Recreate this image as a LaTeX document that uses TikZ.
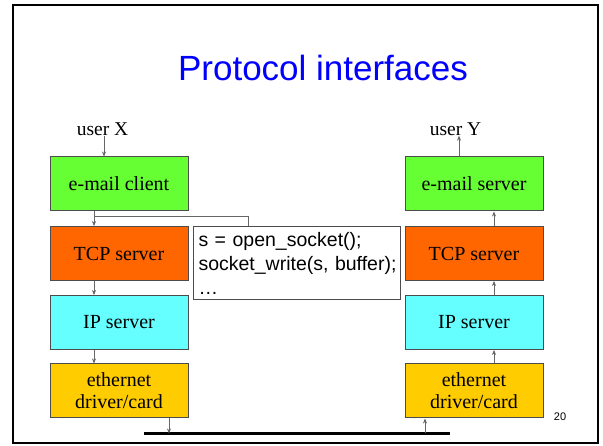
\documentclass[tikz,border=0pt]{standalone}
\usepackage{fontspec}
\setmainfont{Liberation Serif}
\setsansfont{Liberation Sans}
\usetikzlibrary{arrows.meta,calc}
\definecolor{appgreen}{HTML}{66FF33}
\definecolor{tcporange}{HTML}{FF6600}
\definecolor{ipcyan}{HTML}{66FFFF}
\definecolor{ethyellow}{HTML}{FFCC00}
\definecolor{titleblue}{HTML}{0000FF}
\tikzset{
  layer/.style={draw=black!70, line width=1pt, minimum width=138pt, minimum height=54pt,
    inner sep=0pt, align=center, font=\fontsize{20}{22}\selectfont},
  flow/.style={draw=black!60, line width=0.8pt, -{Stealth[length=5pt,width=4pt,fill=black]}},
  plain/.style={draw=black!60, line width=0.8pt},
  label/.style={font=\fontsize{19.5}{22}\selectfont, inner sep=0pt}
}
\begin{document}
\begin{tikzpicture}[x=1pt,y=-1pt]
  \useasboundingbox (0,0) rectangle (603,446);
  % slide frame
  \draw[line width=2pt] (12.5,5.5) rectangle (597.5,443.5);
  % title
  \node[font=\sffamily\fontsize{35}{40}\selectfont, text=titleblue] (title) at (323,68) {Protocol interfaces};

  % sending host
  \node[layer, fill=appgreen]  (ecl)  at (119,184) {e-mail client};
  \node[layer, fill=tcporange] (tcpl) at (119,253.5) {TCP server};
  \node[layer, fill=ipcyan]    (ipl)  at (119,322.5) {IP server};
  \node[layer, fill=ethyellow] (ethl) at (119,391) {ethernet\\driver/card};

  % receiving host
  \node[layer, fill=appgreen]  (ecr)  at (474,184) {e-mail server};
  \node[layer, fill=tcporange] (tcpr) at (474,253.5) {TCP server};
  \node[layer, fill=ipcyan]    (ipr)  at (474,322.5) {IP server};
  \node[layer, fill=ethyellow] (ethr) at (474,391) {ethernet\\driver/card};

  % users
  \node[label] (ux) at (102.5,129) {user X};
  \node[label] (uy) at (455.5,129) {user Y};

  % socket call box
  \node[draw=black!70, line width=1pt, fill=white, anchor=north west,
        minimum width=207pt, minimum height=73pt, text width=201pt,
        inner xsep=3pt, inner ysep=3pt, align=left,
        font=\sffamily\fontsize{19.5}{24}\selectfont] (code) at (193,226)
        {\hspace*{2pt}s = open\_socket();\\\hspace*{2pt}socket\_write(s, buffer);\\\hspace*{2pt}…};

  % ethernet cable
  \coordinate (busL) at (144,433.5);
  \coordinate (busR) at (450,433.5);
  \draw[line width=3.2pt] (busL) -- (busR);

  % page number
  \node[font=\sffamily\fontsize{11}{12}\selectfont] (pg) at (560,417) {20};

  % downward path on the sending side
  \draw[flow] ([xshift=1.5pt]ux.south) -- ([xshift=-15pt]ecl.north);
  \draw[flow] ([xshift=-25pt]ecl.south) -- ([xshift=-25pt]tcpl.north);
  \draw[plain] ($([xshift=-25pt]ecl.south)+(0,5)$) -| ([xshift=55pt]code.north west);
  \draw[flow] ([xshift=-25pt]tcpl.south) -- ([xshift=-25pt]ipl.north);
  \draw[flow] ([xshift=-25pt]ipl.south) -- ([xshift=-25pt]ethl.north);
  \draw[flow] ([xshift=50pt]ethl.south) -- ([xshift=50pt]ethl.south |- busL);

  % upward path on the receiving side
  \draw[flow] ([xshift=-49pt]ethr.south |- busR) -- ([xshift=-49pt]ethr.south);
  \draw[flow] ([xshift=20pt]ethr.north) -- ([xshift=20pt]ipr.south);
  \draw[flow] ([xshift=20pt]ipr.north) -- ([xshift=20pt]tcpr.south);
  \draw[flow] ([xshift=20pt]tcpr.north) -- ([xshift=20pt]ecr.south);
  \draw[flow] ([xshift=-15pt]ecr.north) -- ([xshift=-15pt]ecr.north |- uy.south);
\end{tikzpicture}
\end{document}
